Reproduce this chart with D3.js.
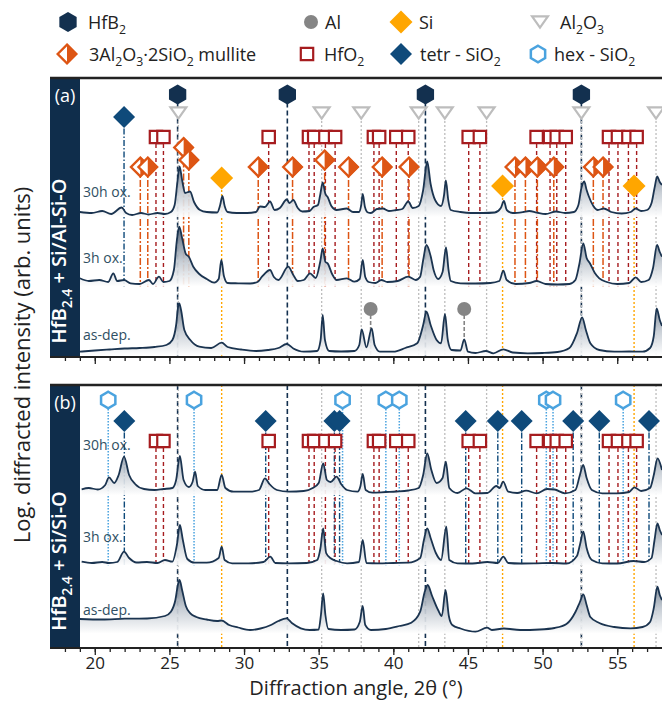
<!DOCTYPE html>
<html>
<head>
<meta charset="utf-8">
<script src="https://cdn.jsdelivr.net/npm/d3@7"></script>
<style>
body{margin:0;background:#fff;}
svg{display:block;font-family:"Open Sans",sans-serif;}
</style>
</head>
<body>
<div id="chart"></div>
<script>
// reference peak positions, 2theta in degrees
const hfb2Peaks = [25.55, 32.9, 42.15, 52.6];
const al2o3Peaks = [25.6, 35.2, 37.85, 41.7, 43.45, 46.25, 52.6, 57.6];
const alPeaks = [38.48, 44.75];
const siPeaks = [28.5, 47.32, 56.13];
const mullitePeaks = [23.05, 23.55, 25.95, 26.3, 30.95, 33.25, 35.4, 37.0, 39.25, 41.05, 48.15, 48.85, 49.65, 50.75, 53.4, 54.05];
const hfo2Peaks = [24.1, 24.6, 31.65, 34.35, 34.7, 35.45, 36.1, 38.7, 39.05, 40.2, 41.0, 45.05, 45.8, 49.6, 50.5, 50.95, 51.55, 54.45, 55.05, 55.75, 56.3];
const tetrPeaksA = [21.96];
const tetrPeaksB = [21.98, 31.45, 36.05, 36.4, 44.85, 47.0, 48.6, 52.05, 53.8, 57.13];
const hexPeaks = [20.9, 26.65, 36.6, 39.5, 40.4, 50.25, 50.7, 55.4];

const traceLabels = ['30h ox.', '3h ox.', 'as-dep.'];
const xTicks = [20, 25, 30, 35, 40, 45, 50, 55];

// (a) HfB2.4 + Si/Al-Si-O, log intensity, arb. units (stacked)
const a30h = [[19.0,145],[19.8,144],[20.5,146],[21.1,143],[21.8,149.5],[22.1,144],[22.5,142],[23.1,144],[23.6,142.5],[24.2,144],[24.7,143],[25.1,145],[25.35,152],[25.55,177],[25.68,190.5],[25.85,177],[26.05,164],[26.38,165.5],[26.65,155],[27.05,147],[27.5,145],[28.2,144.5],[28.4,152],[28.55,161],[28.7,151],[28.9,145],[29.5,144],[30.2,144],[30.8,145],[31.07,150.5],[31.4,150],[31.74,155.5],[32.05,147],[32.4,149],[32.86,157.5],[33.05,154],[33.3,157],[33.6,149],[33.9,145.5],[34.4,146],[34.65,150],[34.95,152],[35.1,162],[35.27,174.5],[35.45,163],[35.6,160],[35.85,151],[36.2,147],[36.88,148.5],[37.3,145],[37.7,145],[37.85,152],[37.95,163],[38.1,150],[38.3,144.5],[38.5,144],[38.9,148],[39.3,148.5],[39.7,146],[40.2,147],[40.6,148],[41.0,155.5],[41.3,149],[41.7,151],[42.0,167],[42.27,195.5],[42.5,173],[42.8,157],[43.2,151],[43.4,162],[43.52,176.5],[43.68,157],[43.85,147],[44.5,145],[45.2,144],[46.0,144],[46.8,144.5],[47.2,149],[47.41,156],[47.6,147],[48.0,144],[48.7,145],[49.1,146],[49.6,144.5],[50.2,143],[50.9,145.5],[51.5,144],[52.1,145],[52.4,152],[52.6,169],[52.79,175.5],[52.95,167],[53.1,160.5],[53.4,151],[53.7,147],[54.1,148.5],[54.6,145],[55.3,143.5],[55.9,145],[56.23,148.5],[56.6,146],[57.0,147],[57.3,154],[57.5,169],[57.68,180.5],[57.85,175],[58.0,172]];
const a3h = [[19.0,78.7],[19.6,76],[20.3,77],[20.9,75],[21.24,83.7],[21.5,76],[21.96,77],[22.4,73.7],[23.0,73],[23.63,77],[23.9,73],[24.3,80.3],[24.6,75],[25.0,76],[25.3,87],[25.5,117],[25.66,130.3],[25.85,119],[26.1,103],[26.3,100.3],[26.6,90.3],[27.0,83],[27.5,78],[28.0,74.3],[28.3,78],[28.48,97],[28.65,81],[28.9,74],[29.6,73.7],[30.4,73.5],[30.9,75],[31.2,80.3],[31.74,87],[32.0,80],[32.3,77],[32.96,90.3],[33.3,82],[33.6,76],[34.0,77],[34.42,83.7],[34.8,79],[35.1,95],[35.27,108.7],[35.45,95],[35.6,93.7],[35.9,83],[36.2,77],[36.88,78.7],[37.4,75.3],[37.75,78],[37.95,97],[38.12,80],[38.35,75],[38.8,74],[39.2,77],[39.6,75],[40.3,76],[41.0,80.3],[41.5,77],[41.8,80.3],[42.0,97],[42.22,112],[42.5,101],[42.7,87],[43.0,78],[43.3,85],[43.53,109.7],[43.7,87],[43.85,76],[44.5,73.7],[45.5,73.5],[46.5,74],[47.1,76],[47.37,86.3],[47.6,77],[48.2,73],[49.1,74],[49.6,76],[50.2,73],[51.0,72.5],[51.8,73],[52.2,77],[52.45,92],[52.73,113.7],[52.95,99],[53.17,93.7],[53.5,84],[53.8,78.7],[54.3,75],[55.0,73],[55.8,74],[56.24,79.7],[56.6,75],[57.1,77],[57.4,89],[57.67,112],[57.85,105],[58.0,100.3]];
const aDep = [[19.0,5.3],[20.0,6.5],[21.0,7.5],[22.0,8.5],[23.0,9],[24.0,10],[24.8,12],[25.2,17],[25.45,32],[25.6,52],[25.66,53.7],[25.78,47],[26.0,27],[26.4,17],[27.0,10.3],[27.8,9],[28.5,14.3],[28.9,10],[29.8,7.5],[30.8,6],[31.6,7],[32.3,9],[32.86,13],[33.3,8.5],[34.0,5.3],[34.9,6],[35.13,17],[35.27,42],[35.42,17],[35.7,6],[36.5,5.5],[37.4,6],[37.72,12],[37.88,27.7],[38.2,9.7],[38.55,28.7],[38.75,12],[39.1,5.3],[40.0,5.3],[40.8,9],[41.6,13.7],[42.0,32],[42.22,45.3],[42.5,32],[42.9,17],[43.2,13.7],[43.46,43],[43.65,17],[43.9,7],[44.5,6.5],[44.75,17.7],[45.0,5.3],[45.5,4],[46.2,6],[46.7,3.7],[47.37,7.7],[48.0,4.5],[49.0,3.7],[50.0,4],[51.0,5],[51.8,9],[52.3,23.7],[52.65,39.7],[52.9,27],[53.2,13.7],[53.8,7],[54.8,5.3],[55.8,5.5],[56.7,5.3],[57.2,9],[57.45,21],[57.64,48.7],[57.85,37],[58.0,31]];

// (b) HfB2.4 + Si/Si-O
const b30h = [[19.12,158.7],[19.6,160],[20.2,158.5],[20.7,163],[20.95,170.7],[21.3,165],[21.6,173],[21.96,191.3],[22.3,173],[22.7,164],[23.3,159],[24.0,158],[24.6,159],[25.2,160],[25.45,168],[25.7,192],[25.95,168],[26.3,161],[26.55,166],[26.72,176.3],[26.9,162],[27.4,158],[28.2,158],[28.5,173],[28.75,160],[29.3,156.3],[30.3,156.3],[31.0,158],[31.4,169.7],[31.7,164],[32.2,158],[33.0,156.3],[34.0,157],[34.6,160],[35.0,165],[35.3,184.7],[35.55,168],[35.8,166],[36.2,171.3],[36.5,164],[36.9,158],[37.6,156.3],[37.8,162],[37.95,174],[38.15,158],[38.6,155.3],[39.5,156],[40.2,156.5],[41.0,157.5],[41.7,160],[42.0,173],[42.27,194.7],[42.55,178],[42.9,165],[43.3,170],[43.52,186.3],[43.75,160],[44.3,155],[44.9,159.7],[45.5,154.7],[46.3,155],[46.9,162],[47.12,160],[47.36,166.3],[47.7,156.3],[48.3,155],[48.9,157.3],[49.6,154.7],[50.3,159],[50.8,158.5],[51.5,154.7],[52.2,158],[52.5,173],[52.72,183],[52.95,170],[53.3,158],[54.0,154.7],[55.0,154.7],[55.8,156],[56.15,160.7],[56.6,157],[57.2,160],[57.45,173],[57.7,189.7],[58.0,178]];
const b3h = [[19.12,86.3],[19.8,85],[20.5,86],[20.95,85],[21.5,86],[21.96,96.3],[22.3,90],[22.8,85.5],[23.5,86],[24.2,85],[24.7,88],[25.2,86.3],[25.5,103],[25.7,123],[25.9,108],[26.2,89],[26.7,85.3],[27.5,85.3],[28.3,90],[28.5,101.3],[28.7,88],[29.2,84.7],[30.3,84.7],[31.3,86],[31.76,91.3],[32.1,85],[33.0,84.7],[34.2,85],[34.9,88],[35.12,100],[35.3,119.7],[35.5,95],[35.8,89.7],[36.2,87],[36.9,84.7],[37.7,86],[37.95,108],[38.2,85],[39.0,84.7],[40.0,85],[41.0,85.3],[41.8,90],[42.05,108],[42.27,119.7],[42.5,110],[42.85,95],[43.2,88],[43.55,121.3],[43.75,88],[44.3,84.7],[45.3,84.5],[46.3,86],[47.0,85],[47.37,91.3],[47.7,85],[48.5,84.5],[49.6,84.7],[50.6,85],[51.6,84.5],[52.3,92],[52.5,103],[52.73,116.3],[52.95,100],[53.3,88],[54.0,84.7],[55.0,84.5],[56.1,87],[56.8,86],[57.3,90],[57.5,108],[57.69,124.7],[57.85,118],[58.0,113]];
const bDep = [[19.0,29],[20.5,28.5],[22.0,29.3],[23.5,29.5],[24.7,32],[25.1,36.3],[25.4,48],[25.58,64],[25.68,68],[25.85,58],[26.1,42],[26.4,34.7],[26.8,31],[27.5,28.5],[28.2,27],[28.5,27.5],[29.0,23],[29.6,20.5],[30.4,18],[31.1,19.5],[31.8,23],[32.3,27],[32.84,29.7],[33.2,25],[33.8,19.7],[34.4,18],[35.0,18.5],[35.15,33],[35.3,54.7],[35.45,33],[35.65,19],[36.5,18],[37.4,18.5],[37.75,26],[37.95,42],[38.12,23],[38.5,18],[39.5,19],[40.4,22],[41.2,25.3],[41.8,36.3],[42.1,56],[42.3,63],[42.6,52],[43.0,38],[43.25,32],[43.5,58],[43.72,32],[43.95,23],[44.5,19.5],[45.5,16.3],[46.28,20.3],[46.6,18],[47.4,19.5],[48.5,18],[49.8,18.5],[50.8,20],[51.6,24],[52.2,36],[52.5,46],[52.73,53.7],[52.95,43],[53.2,31],[53.8,25],[54.8,21],[55.9,19.7],[56.7,21],[57.2,26],[57.45,40],[57.69,61.3],[57.85,53],[58.0,48]];

const W = 662, H = 701;
const styles = {
  HfB2:   {color:'#13304f', dash:'5,3', lw:1.6, shape:'hex', r:10, fill:'solid'},
  Al:     {color:'#858585', dash:'4,2', lw:1.6, shape:'circle', r:7, fill:'solid'},
  Si:     {color:'#ffa600', dash:'2,2', lw:1.4, shape:'diamond', r:11.5, fill:'solid'},
  Al2O3:  {color:'#bdbdbd', dash:'2,2', lw:1.3, shape:'tri', r:9, fill:'open', sw:2.2},
  mullite:{color:'#dd5514', dash:'7,2,2,2', lw:1.5, shape:'diamond', r:10.5, fill:'half', sw:2.4},
  HfO2:   {color:'#a61c1f', dash:'4,3', lw:1.4, shape:'square', r:7.3, fill:'open', sw:2.2},
  tetr:   {color:'#0f4a7a', dash:'6,2,1.5,2', lw:1.4, shape:'diamond', r:11, fill:'solid'},
  hex:    {color:'#4aa3df', dash:'1.5,1.5', lw:1.5, shape:'hex', r:9.5, fill:'open', sw:2.5}
};

const svg = d3.select('#chart').append('svg').attr('width', W).attr('height', H);
const defs = svg.append('defs');
const x = d3.scaleLinear().domain([17, 58]).range([50, 662]);

function shapePath(shape, r) {
  if (shape === 'hex') {
    return d3.line()(d3.range(6).map(i => {
      const a = Math.PI / 3 * i - Math.PI / 2;
      return [r * Math.cos(a), r * Math.sin(a)];
    })) + 'Z';
  }
  if (shape === 'diamond') return `M0,${-r}L${r},0L0,${r}L${-r},0Z`;
  if (shape === 'square') return `M${-r},${-r}H${r}V${r}H${-r}Z`;
  if (shape === 'tri') return `M${-r},${-r*0.7}H${r}L0,${r*0.7}Z`;
  return d3.symbol(d3.symbolCircle, Math.PI * r * r)();
}

function drawMarker(sel, key, cx, cy) {
  const s = styles[key];
  const m = sel.append('g').attr('transform', `translate(${cx},${cy})`);
  if (s.fill === 'solid') {
    m.append('path').attr('d', shapePath(s.shape, s.r)).attr('fill', s.color);
  } else {
    m.append('path').attr('d', shapePath(s.shape, s.r - s.sw / 2))
      .attr('fill', '#fff').attr('stroke', s.color).attr('stroke-width', s.sw);
    if (s.fill === 'half') {
      const r = s.r;
      m.append('path').attr('d', `M0,${-r}L${r},0L0,${r}Z`).attr('fill', s.color);
    }
  }
}

// text with subscripts: parts = [[text, isSub], ...]
function rich(t, parts, size) {
  let off = 0;
  parts.forEach(([s, sub]) => {
    const target = sub ? size * 0.3 : 0;
    const ts = t.append('tspan').text(s).attr('dy', target - off);
    if (sub) ts.attr('font-size', size * 0.68);
    off = target;
  });
}

const panels = [
  {id:'A', top:78, bottom:357, max:279, traces:[a30h, a3h, aDep], labelY:[192, 258, 335],
   tag:'(a)', sample:[['HfB'],['2.4',1],[' + Si/Al-Si-O']], sampleY:261,
   phases:[
     {key:'HfB2', peaks:hfb2Peaks, row:94.5, end:'bottom'},
     {key:'Al2O3', peaks:al2o3Peaks, row:113, end:'bottom'},
     {key:'Si', peaks:siPeaks, row:186, end:'bottom', lift:{28.5:-8}},
     {key:'Al', peaks:alPeaks, row:309, end:'bottom'},
     {key:'tetr', peaks:tetrPeaksA, row:117, end:'ox'},
     {key:'HfO2', peaks:hfo2Peaks, row:137, end:'ox'},
     {key:'mullite', peaks:mullitePeaks, row:167, end:'ox', lift:{25.95:-19.5, 26.3:-7, 35.4:-7}}
   ]},
  {id:'B', top:385, bottom:648, max:263, traces:[b30h, b3h, bDep], labelY:[445, 537, 610],
   tag:'(b)', sample:[['HfB'],['2.4',1],[' + Si/Si-O']], sampleY:561,
   phases:[
     {key:'HfB2', peaks:hfb2Peaks, row:null, end:'bottom'},
     {key:'Al2O3', peaks:al2o3Peaks, row:null, end:'bottom'},
     {key:'Si', peaks:siPeaks, row:null, end:'bottom'},
     {key:'hex', peaks:hexPeaks, row:400, end:'ox'},
     {key:'tetr', peaks:tetrPeaksB, row:421, end:'ox'},
     {key:'HfO2', peaks:hfo2Peaks, row:441, end:'ox'}
   ]}
];

panels.forEach(p => {
  const y = d3.scaleLinear().domain([0, p.max]).range([p.bottom, p.top]);
  const clipId = 'clip' + p.id;
  defs.append('clipPath').attr('id', clipId).append('rect')
    .attr('x', 50).attr('y', p.top).attr('width', 612).attr('height', p.bottom - p.top);
  const g = svg.append('g').attr('clip-path', `url(#${clipId})`);
  const base = p.traces.map(t => y(d3.min(t, d => d[1])) + 2);
  const markerY = (ph, t) => ph.row + ((ph.lift && ph.lift[t]) || 0);

  // reference lines
  const lg = g.append('g');
  p.phases.forEach(ph => {
    const s = styles[ph.key];
    ph.peaks.forEach(t => {
      lg.append('line')
        .attr('x1', x(t)).attr('x2', x(t))
        .attr('y1', ph.row == null ? p.top : markerY(ph, t))
        .attr('y2', ph.end === 'ox' ? base[1] : p.bottom)
        .attr('stroke', s.color).attr('stroke-width', s.lw)
        .attr('stroke-dasharray', s.dash);
    });
  });

  // diffractograms
  const tg = g.append('g');
  p.traces.forEach((tr, i) => {
    const gid = `grad${p.id}${i}`;
    const gr = defs.append('linearGradient').attr('id', gid)
      .attr('gradientUnits', 'userSpaceOnUse')
      .attr('x1', 0).attr('x2', 0).attr('y1', base[i] - 55).attr('y2', base[i]);
    gr.append('stop').attr('offset', 0).attr('stop-color', '#5d6c7e');
    gr.append('stop').attr('offset', 0.55).attr('stop-color', '#c3cad2');
    gr.append('stop').attr('offset', 1).attr('stop-color', '#ffffff');
    const area = d3.area().x(d => x(d[0])).y0(base[i]).y1(d => y(d[1])).curve(d3.curveMonotoneX);
    const line = d3.line().x(d => x(d[0])).y(d => y(d[1])).curve(d3.curveMonotoneX);
    tg.append('path').datum(tr).attr('d', area)
      .attr('fill', `url(#${gid})`).attr('fill-opacity', 0.92);
    tg.append('path').datum(tr).attr('d', line)
      .attr('fill', 'none').attr('stroke', '#1b3450').attr('stroke-width', 1.8)
      .attr('stroke-linejoin', 'round');
  });

  // phase markers
  const mg = g.append('g');
  p.phases.filter(ph => ph.row != null).forEach(ph => {
    ph.peaks.forEach(t => drawMarker(mg, ph.key, x(t), markerY(ph, t)));
  });

  traceLabels.forEach((lab, i) => {
    g.append('text').attr('x', 83).attr('y', p.labelY[i]).attr('dy', '0.35em')
      .attr('font-size', 14).attr('fill', '#2f4f63').text(lab);
  });

  // sample band
  svg.append('rect').attr('x', 50).attr('y', p.top).attr('width', 30)
    .attr('height', p.bottom - p.top).attr('fill', '#0f2d4b');
  svg.append('text').attr('x', 65).attr('y', p.top + 18).attr('dy', '0.35em')
    .attr('text-anchor', 'middle').attr('fill', '#fff').attr('font-size', 18).text(p.tag);
  const st = svg.append('text')
    .attr('transform', `translate(66,${p.sampleY}) rotate(-90)`)
    .attr('text-anchor', 'middle').attr('dy', '0.35em')
    .attr('fill', '#fff').attr('font-size', 20).attr('font-weight', 600);
  rich(st, p.sample, 20);

  // axes
  const minor = svg.append('g').attr('transform', `translate(0,${p.bottom})`)
    .call(d3.axisBottom(x).tickValues(d3.range(18, 58)).tickSize(4).tickFormat(''));
  minor.select('.domain').remove();
  const major = svg.append('g').attr('transform', `translate(0,${p.bottom})`)
    .call(d3.axisBottom(x).tickValues(xTicks).tickSize(7).tickPadding(1.5)
      .tickFormat(p.id === 'B' ? d3.format('d') : ''));
  major.select('.domain').remove();
  svg.selectAll('.tick line').attr('stroke', '#222').attr('stroke-width', 1.3);
  major.selectAll('text').attr('font-size', 17).attr('fill', '#222')
    .attr('font-family', '"Open Sans",sans-serif');
  svg.append('line').attr('x1', 50).attr('x2', 662).attr('y1', p.bottom).attr('y2', p.bottom)
    .attr('stroke', '#222').attr('stroke-width', 2);
  svg.append('line').attr('x1', 50).attr('x2', 662).attr('y1', p.top).attr('y2', p.top)
    .attr('stroke', '#222').attr('stroke-width', 2.5);
});

// axis titles
svg.append('text').attr('x', 356).attr('y', 694.5)
  .attr('text-anchor', 'middle').attr('font-size', 20).attr('fill', '#222')
  .text('Diffraction angle, 2θ (°)');
svg.append('text').attr('transform', 'translate(22,365) rotate(-90)')
  .attr('text-anchor', 'middle').attr('dy', '0.35em')
  .attr('font-size', 22).attr('fill', '#222')
  .text('Log. diffracted intensity (arb. units)');

// legend
const legendItems = [
  {key:'HfB2', label:[['HfB'],['2',1]], mx:68, tx:88, y:22},
  {key:'Al', label:[['Al']], mx:311, tx:325, y:22},
  {key:'Si', label:[['Si']], mx:401, tx:419, y:22},
  {key:'Al2O3', label:[['Al'],['2',1],['O'],['3',1]], mx:540, tx:560, y:22},
  {key:'mullite', label:[['3Al'],['2',1],['O'],['3',1],['·2SiO'],['2',1],[' mullite']], mx:67, tx:89, y:54},
  {key:'HfO2', label:[['HfO'],['2',1]], mx:307, tx:324, y:54},
  {key:'tetr', label:[['tetr - SiO'],['2',1]], mx:401, tx:420, y:54},
  {key:'hex', label:[['hex - SiO'],['2',1]], mx:538, tx:554, y:54}
];
const leg = svg.append('g');
legendItems.forEach(it => {
  drawMarker(leg, it.key, it.mx, it.y);
  const t = leg.append('text').attr('x', it.tx).attr('y', it.y + 6.5)
    .attr('font-size', 18).attr('fill', '#222');
  rich(t, it.label, 18);
});
</script>
</body>
</html>
